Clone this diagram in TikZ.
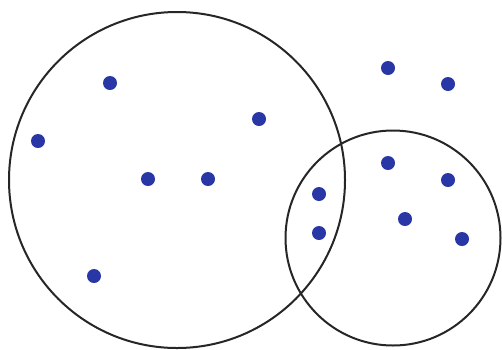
\documentclass[tikz,border=0pt]{standalone}
\definecolor{dotblue}{RGB}{40,55,165}
\begin{document}
\begin{tikzpicture}[x=1pt,y=-1pt,
  ring/.style={draw=black!85,line width=2pt},
  pt/.style={circle,fill=dotblue,inner sep=0pt,minimum size=14pt}]
\useasboundingbox (0,0) rectangle (502,349);
\node[ring,circle,minimum size=336pt,inner sep=0pt] (big) at (177,180) {};
\node[ring,circle,minimum size=215pt,inner sep=0pt] (small) at (393,238) {};
\node[pt] (p1) at (110,83) {};
\node[pt] (p2) at (38,141) {};
\node[pt] (p3) at (259,119) {};
\node[pt] (p4) at (148,179) {};
\node[pt] (p5) at (208,179) {};
\node[pt] (p6) at (94,276) {};
\node[pt] (p7) at (388,68) {};
\node[pt] (p8) at (448,84) {};
\node[pt] (p9) at (388,163) {};
\node[pt] (p10) at (448,180) {};
\node[pt] (p11) at (319,194) {};
\node[pt] (p12) at (319,233) {};
\node[pt] (p13) at (405,219) {};
\node[pt] (p14) at (462,239) {};
\end{tikzpicture}
\end{document}
